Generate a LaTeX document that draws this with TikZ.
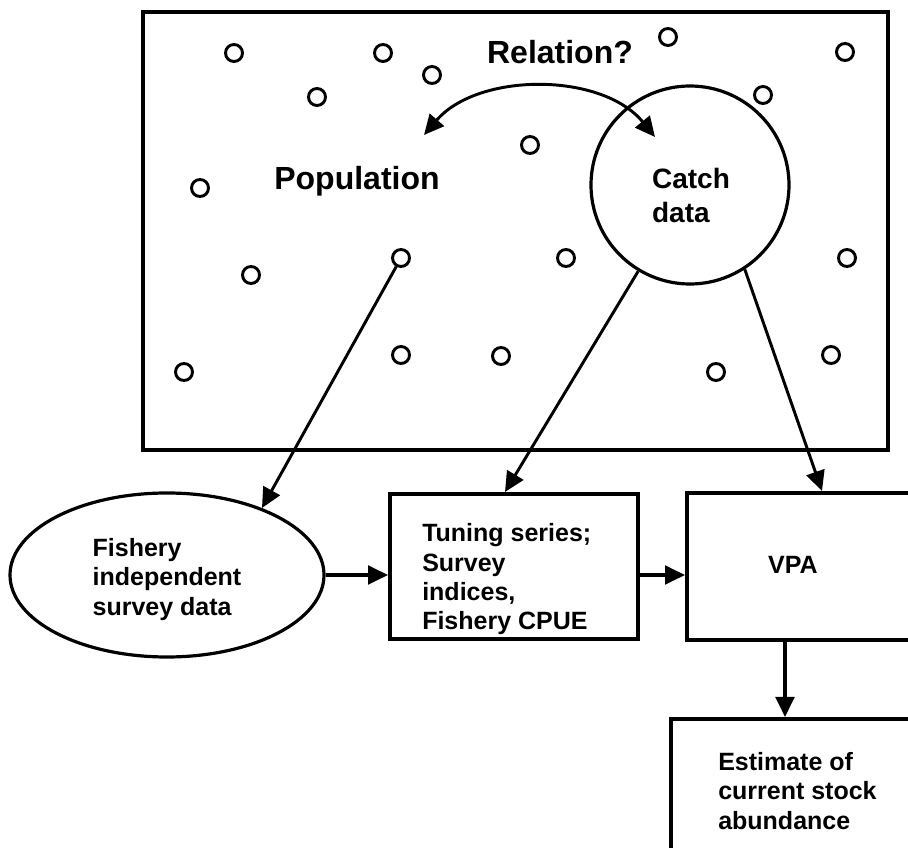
\documentclass[tikz,border=0pt]{standalone}
\usepackage{fontspec}
\setmainfont{Liberation Sans}
\usetikzlibrary{arrows.meta,positioning,shapes,calc}

\begin{document}
\begin{tikzpicture}[x=0.75pt, y=-0.75pt,
            dot/.style={circle, draw, line width=2.2pt, minimum size=12.75pt, inner sep=0pt},
            box/.style={rectangle, draw, line width=3pt, inner sep=0pt},
            lbl/.style={align=left, font=\bfseries\fontsize{18.75}{22}\selectfont, inner sep=0pt},
            big/.style={font=\bfseries\fontsize{24}{28}\selectfont, inner sep=0pt},
            head/.style={Triangle[length=15pt, width=14pt]},
            arrow/.style={-{Triangle[length=15pt, width=14pt]}, line width=2.4pt}
        ]
        \useasboundingbox (0,0) rectangle (908,848);
        \clip (0,0) rectangle (908,848);

        % population area with the fish
        \draw[line width=3pt] (143,12) rectangle (888,450);
        \foreach \x/\y [count=\i] in {234/53, 383/53, 432/75, 668/37, 845/52, 317/97,
                763/95, 530/145, 200/188, 401/258, 251/275, 566/258, 847/258,
                184/372, 401/355, 501/356, 716/372, 831/355}
            \node[dot] (d\i) at (\x,\y) {};

        \node[big] (relation) at (560,52) {Relation?};
        \node[big] (population) at (357,181) {Population};
        \node[circle, draw, line width=2.4pt, minimum size=148.5pt, inner sep=0pt] (catch) at (690,185) {};
        \node[align=left, font=\bfseries\fontsize{21}{25.5}\selectfont, inner sep=0pt] (catchtxt) at (691,195) {Catch\\data};

        \coordinate (popend) at (424,135);
        \coordinate (catchend) at (655,137);
        \draw[{Triangle[length=15pt, width=14pt]}-{Triangle[length=15pt, width=14pt]}, line width=2.2pt]
            (popend) .. controls (478,72) and (602,72) .. (catchend);

        % assessment chain
        \node[ellipse, draw, line width=2.4pt, minimum width=235.5pt, minimum height=123pt, inner sep=0pt] (survey) at (167,575) {};
        \node[lbl] (surveytxt) at (167,579.5) {Fishery\\independent\\survey data};
        \node[box, minimum width=186pt, minimum height=108.75pt] (tuning) at (514,566.5) {};
        \node[lbl, anchor=west] (tuningtxt) at (422,579.5) {Tuning series;\\Survey\\indices,\\Fishery CPUE};
        \node[box, minimum width=168.75pt, minimum height=110.25pt] (vpa) at (799.5,566.5) {};
        \node[lbl] (vpatxt) at (793,565) {VPA};
        \node[box, minimum width=201.75pt, minimum height=113.25pt] (est) at (805.5,794.5) {};
        \node[lbl, anchor=west] (esttxt) at (718,791) {Estimate of\\current stock\\abundance};

        \coordinate (surveyin) at (262,508);
        \coordinate (tuningin) at (505,492);
        \coordinate (vpain) at (822,491);

        \draw[arrow, line width=2.2pt] (d10) -- (surveyin);
        \draw[arrow, line width=2.2pt] (catch.-121) -- (tuningin);
        \draw[arrow, line width=2.2pt] (catch.-57) -- (vpain);
        \draw[arrow] (survey.east) -- (survey.east -| tuning.west);
        \draw[arrow] (tuning.east |- survey.east) -- (vpa.west |- survey.east);
        \draw[arrow] ($(vpa.south west)+(100,0)$) -- ($(est.north west)+(116,0)$);
\end{tikzpicture}
\end{document}
